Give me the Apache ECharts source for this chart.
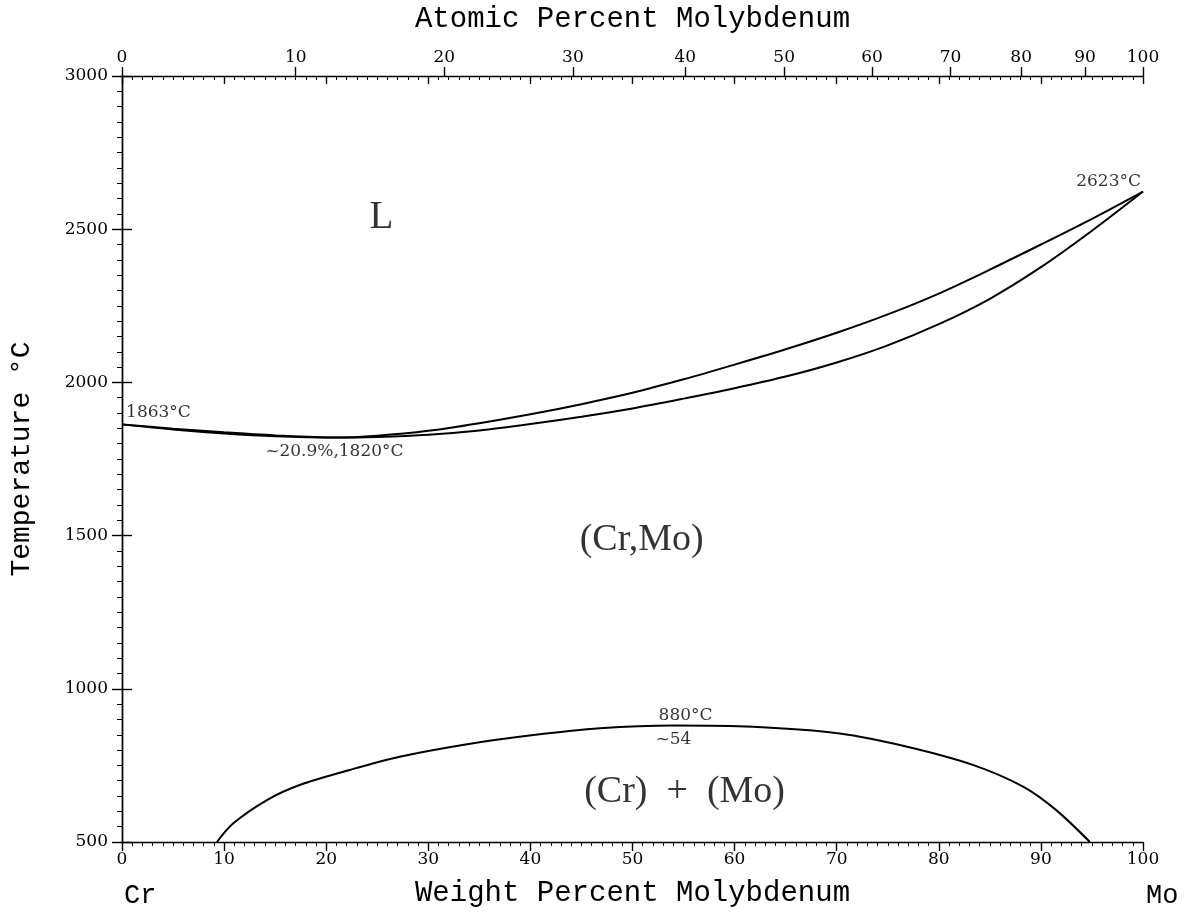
<!DOCTYPE html>
<html>
<head>
<meta charset="utf-8">
<script src="https://cdn.jsdelivr.net/npm/echarts@6/dist/echarts.min.js"></script>
<style>
html,body{margin:0;padding:0;background:#fff;}
#chart{width:1187px;height:913px;}
</style>
</head>
<body>
<div id="chart"></div>
<script>
// ---- Data (weight % Mo, temperature °C) ----
const liquidusWt = [0, 5, 10, 15, 20.9, 25, 30, 35, 40, 45, 50, 55, 60, 65, 70, 75, 80, 85, 90, 95, 100];
const liquidusT  = [1863, 1849, 1837, 1827, 1820, 1826, 1842, 1867, 1896, 1929, 1966, 2010, 2058, 2108, 2162, 2222, 2290, 2368, 2450, 2534, 2623];
const solidusWt  = [0, 5, 10, 15, 20.9, 25, 30, 35, 40, 45, 50, 55, 60, 65, 70, 75, 80, 85, 90, 95, 100];
const solidusT   = [1863, 1846, 1833, 1824, 1820, 1822, 1829, 1843, 1864, 1888, 1915, 1947, 1981, 2019, 2065, 2121, 2190, 2273, 2376, 2495, 2623];
const gapWt = [9.3, 10.9, 14.2, 17.4, 22.3, 27.2, 33.8, 40.3, 46.8, 54, 61.8, 70.3, 76.9, 83.4, 88.3, 91.5, 94.8];
const gapT  = [500, 561, 637, 686, 735, 778, 819, 849, 871, 880, 876, 854, 811, 751, 680, 604, 500];

// ---- Tick labels ----
const weightTicks = [0, 10, 20, 30, 40, 50, 60, 70, 80, 90, 100];
const atomicTicks = [0, 10, 20, 30, 40, 50, 60, 70, 80, 90, 100];
const tempTicks = [500, 1000, 1500, 2000, 2500, 3000];

// ---- Annotation texts (data coords) ----
const annotTexts = ['1863°C', '~20.9%,1820°C', '2623°C', '880°C', '~54', 'L', '(Cr,Mo)', '(Cr)  +  (Mo)'];
const annotWt    = [0.4, 20.8, 99.8, 55.2, 54.0, 25.4, 50.9, 55.1];
const annotT     = [1902, 1774, 2655, 914, 835, 2537, 1484, 663];

// atomic % -> weight % conversion (atomic masses)
const M_MO = 95.95, M_CR = 51.996;
function atToWt(a) { return a * M_MO / (a * M_MO + (100 - a) * M_CR) * 100; }
const atomicTickPos = atomicTicks.map(atToWt);

function pairs(xs, ys) { return xs.map((x, i) => [x, ys[i]]); }

const serifBig = '"Liberation Serif", "DejaVu Serif", serif';
const tickFont = '"DejaVu Serif", serif';
const monoFont = '"Liberation Mono", "DejaVu Sans Mono", monospace';

const annotStyles = [
  {fontSize: 17, fontFamily: tickFont, align: 'left'},
  {fontSize: 17, fontFamily: tickFont, align: 'center'},
  {fontSize: 17, fontFamily: tickFont, align: 'right'},
  {fontSize: 17, fontFamily: tickFont, align: 'center'},
  {fontSize: 17, fontFamily: tickFont, align: 'center'},
  {fontSize: 39, fontFamily: serifBig, align: 'center'},
  {fontSize: 38, fontFamily: serifBig, align: 'center'},
  {fontSize: 38, fontFamily: serifBig, align: 'center'}
];

const lineStyle = {color: '#000', width: 2};
const axisLineStyle = {color: '#000', width: 1.4};

const chart = echarts.init(document.getElementById('chart'));
const option = {
  backgroundColor: '#fff',
  animation: false,
  grid: {left: 122, right: 44, top: 75, bottom: 71, containLabel: false},
  xAxis: [
    {
      type: 'value', position: 'bottom', min: 0, max: 100, interval: 10,
      axisLine: {lineStyle: axisLineStyle},
      axisTick: {show: true, inside: false, length: 9, lineStyle: axisLineStyle},
      minorTick: {show: true, splitNumber: 10, length: 4, lineStyle: {color: '#000', width: 1}},
      axisLabel: {margin: 9, fontSize: 17, color: '#000', fontFamily: tickFont,
        formatter: v => weightTicks.includes(v) ? String(v) : ''},
      splitLine: {show: false},
      name: 'Weight Percent Molybdenum', nameLocation: 'middle', nameGap: 37,
      nameTextStyle: {fontSize: 29, fontFamily: monoFont, color: '#000'}
    },
    {
      type: 'value', position: 'top', min: 0, max: 100, interval: 10,
      axisLine: {lineStyle: axisLineStyle},
      axisTick: {show: true, inside: true, length: 8, lineStyle: axisLineStyle},
      minorTick: {show: true, splitNumber: 10, length: 4, lineStyle: {color: '#000', width: 1}},
      axisLabel: {show: false},
      splitLine: {show: false}
    },
    {
      type: 'value', position: 'top', min: 0, max: 100,
      axisLine: {show: false},
      axisTick: {show: true, inside: false, length: 9, customValues: atomicTickPos, lineStyle: axisLineStyle},
      axisLabel: {show: true, margin: 10, fontSize: 17, color: '#000', fontFamily: tickFont,
        customValues: atomicTickPos,
        formatter: v => {
          let best = 0, d = 1e9;
          atomicTickPos.forEach((p, i) => { if (Math.abs(p - v) < d) { d = Math.abs(p - v); best = i; } });
          return String(atomicTicks[best]);
        }},
      splitLine: {show: false},
      name: 'Atomic Percent Molybdenum', nameLocation: 'middle', nameGap: 42,
      nameTextStyle: {fontSize: 29, fontFamily: monoFont, color: '#000'}
    }
  ],
  yAxis: [
    {
      type: 'value', position: 'left', min: 500, max: 3000, interval: 500,
      axisLine: {show: true, lineStyle: axisLineStyle},
      axisTick: {show: true, inside: false, length: 10, lineStyle: axisLineStyle},
      minorTick: {show: true, splitNumber: 10, length: 5, lineStyle: {color: '#000', width: 1}},
      axisLabel: {margin: 14, fontSize: 17, color: '#000', fontFamily: tickFont,
        formatter: v => tempTicks.includes(v) ? String(v) : ''},
      splitLine: {show: false},
      name: 'Temperature °C', nameLocation: 'middle', nameGap: 86, nameRotate: 90,
      nameTextStyle: {fontSize: 28, fontFamily: monoFont, color: '#000'}
    },
    {
      type: 'value', position: 'right', min: 500, max: 3000, interval: 500,
      axisLine: {show: true, lineStyle: axisLineStyle},
      axisTick: {show: true, inside: false, length: 10, lineStyle: axisLineStyle},
      minorTick: {show: false},
      axisLabel: {show: false},
      splitLine: {show: false}
    },
    {
      type: 'value', position: 'right', min: 500, max: 3000, interval: 500,
      axisLine: {show: false},
      axisTick: {show: false, inside: true},
      minorTick: {show: true, splitNumber: 10, length: 5, lineStyle: {color: '#000', width: 1}},
      axisLabel: {show: false},
      splitLine: {show: false}
    }
  ],
  graphic: [
    {type: 'text', left: 124, top: 882, style: {text: 'Cr', fontSize: 27, fontFamily: monoFont, fill: '#000'}},
    {type: 'text', left: 1146, top: 882, style: {text: 'Mo', fontSize: 27, fontFamily: monoFont, fill: '#000'}}
  ],
  series: [
    {type: 'line', name: 'Liquidus', data: pairs(liquidusWt, liquidusT), showSymbol: false,
      smooth: 0.3, lineStyle: lineStyle, itemStyle: {color: '#000'}, z: 3},
    {type: 'line', name: 'Solidus', data: pairs(solidusWt, solidusT), showSymbol: false,
      smooth: 0.3, lineStyle: lineStyle, itemStyle: {color: '#000'}, z: 3},
    {type: 'line', name: 'Miscibility gap', data: pairs(gapWt, gapT), showSymbol: false,
      smooth: 0.3, lineStyle: lineStyle, itemStyle: {color: '#000'}, z: 3},
    {type: 'scatter', name: 'labels', symbolSize: 0, silent: true, clip: false, z: 5,
      data: annotTexts.map((t, i) => ({
        value: [annotWt[i], annotT[i]], name: t,
        label: Object.assign({show: true, position: 'inside', formatter: t, color: '#000',
          verticalAlign: 'middle'}, annotStyles[i])
      }))}
  ]
};
chart.setOption(option);
</script>
</body>
</html>
